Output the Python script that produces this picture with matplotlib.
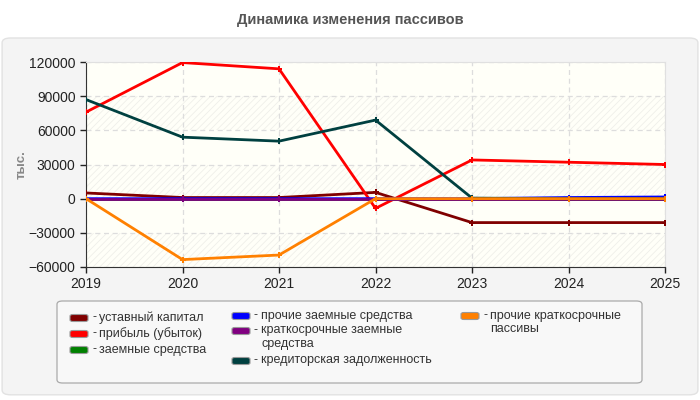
import matplotlib
matplotlib.use("Agg")
import matplotlib.pyplot as plt
from matplotlib.patches import FancyBboxPatch

plt.rcParams["font.family"] = ["Liberation Sans", "DejaVu Sans"]
plt.rcParams["hatch.linewidth"] = 0.6

years = [2019, 2020, 2021, 2022, 2023, 2024, 2025]

ustavny = [5000, 1000, 1000, 5500, -21000, -21000, -21000]
pribyl = [76000, 119500, 114000, -8500, 34000, 32000, 30000]
zaemnye = [0, 0, 0, 0, 0, 0, 0]
prochie_zaem = [0, 0, 0, 0, 0, 1000, 1500]
kratk_zaem = [0, 0, 0, 0, 0, 0, 0]
kreditor = [87000, 54000, 50500, 69000, 500, 0, 0]
prochie_kratk = [0, -53500, -49500, 0, 0, 0, 0]

series = [
    ("уставный капитал", ustavny, "#800000"),
    ("прибыль (убыток)", pribyl, "#FF0000"),
    ("заемные средства", zaemnye, "#008000"),
    ("прочие заемные средства", prochie_zaem, "#0000FF"),
    ("краткосрочные заемные\nсредства", kratk_zaem, "#800080"),
    ("кредиторская задолженность", kreditor, "#004040"),
    ("прочие краткосрочные\nпассивы", prochie_kratk, "#FF8000"),
]

y_ticks = [-60000, -30000, 0, 30000, 60000, 90000, 120000]

fig = plt.figure(figsize=(7, 4), dpi=100, facecolor="white")

# grey rounded panel behind the chart
panel = FancyBboxPatch((0.003, 0.013), 0.994, 0.892,
                       boxstyle="round,pad=0,rounding_size=0.012",
                       transform=fig.transFigure, facecolor="#F4F4F4",
                       edgecolor="#E2E2E2", linewidth=1, zorder=-10)
fig.patches.append(panel)

fig.text(0.5, 0.95, "Динамика изменения пассивов", ha="center", va="center",
         fontsize=10.5, fontweight="bold", color="#555555")

ax = fig.add_axes([0.1229, 0.3325, 0.8271, 0.5125])
ax.set_facecolor("#FFFFF8")

# alternating hatched bands
for i in range(len(y_ticks) - 1):
    if i % 2 == 0:
        ax.axhspan(y_ticks[i], y_ticks[i + 1], facecolor="#FFFFF8",
                   edgecolor="#EFEFEA", hatch="/////", linewidth=0, zorder=0)

for label, vals, color in series:
    ax.plot(years, vals, color=color, linewidth=2, marker="P",
            markersize=4.5, markeredgewidth=0, zorder=3)

ax.set_xlim(2019, 2025)
ax.set_ylim(-60000, 120000)
ax.set_xticks(years)
ax.set_yticks(y_ticks)
ax.tick_params(labelsize=10, colors="#222222", length=4, width=1)
ax.grid(True, color="#DDDDDD", linestyle=(0, (4, 3)), linewidth=0.9)
ax.set_axisbelow(True)
for side in ["top", "right"]:
    ax.spines[side].set_color("#E0E0E0")
for side in ["left", "bottom"]:
    ax.spines[side].set_color("#333333")

fig.text(0.031, 0.588, "тыс.", rotation=90, ha="center", va="center",
         fontsize=9.5, fontweight="bold", color="#888888")

# legend box (drawn by hand: 3 / 3 / 1 column layout)
leg_box = FancyBboxPatch((57 / 700, 1 - 383 / 400), 585 / 700, 82 / 400,
                         boxstyle="round,pad=0,rounding_size=0.008",
                         transform=fig.transFigure, facecolor="#F8F8F8",
                         edgecolor="#AAAAAA", linewidth=0.9, zorder=1)
fig.patches.append(leg_box)

col_x = [70, 232, 461]
rows_y = [
    [318, 334, 350],
    [316, 331, 361],
    [316],
]
idx = 0
for c, ys in enumerate(rows_y):
    for y in ys:
        label, vals, color = series[idx]
        hx = col_x[c] / 700
        fig.patches.append(FancyBboxPatch(
            (hx, 1 - (y + 3.5) / 400), 18 / 700, 7 / 400,
            boxstyle="round,pad=0,rounding_size=0.004",
            transform=fig.transFigure, facecolor=color,
            edgecolor="#999999", linewidth=0.8, zorder=2))
        fig.text(hx + 22 / 700, 1 - (y - 6.5) / 400, "-", ha="left", va="top",
                 fontsize=9, color="#333333")
        fig.text(hx + 29 / 700, 1 - (y - 6.5) / 400, label, ha="left", va="top",
                 fontsize=9, color="#333333", linespacing=1.15)
        idx += 1

fig.savefig("out.png", dpi=100, facecolor=fig.get_facecolor())
